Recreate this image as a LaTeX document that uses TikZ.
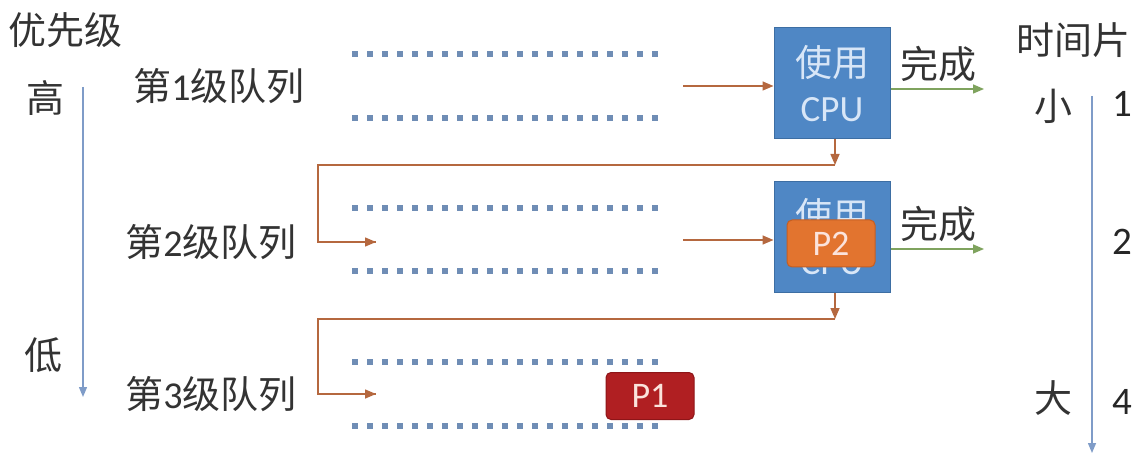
\documentclass[tikz,border=0pt]{standalone}
\usepackage{fontspec}
\setmainfont{Carlito}
\newfontfamily\cjk{Noto Sans CJK SC}
\usetikzlibrary{arrows.meta}
\definecolor{axisblue}{HTML}{7F9CC8}
\definecolor{dotblue}{HTML}{6F8DB5}
\definecolor{brownarr}{HTML}{B5683F}
\definecolor{greenarr}{HTML}{7FA35E}
\definecolor{cpufill}{HTML}{4F87C5}
\definecolor{cpudraw}{HTML}{3D6EA3}
\definecolor{cputext}{HTML}{D8E6F7}
\definecolor{ptwo}{HTML}{E2742F}
\definecolor{ptwodraw}{HTML}{C45E22}
\definecolor{pone}{HTML}{B01F22}
\definecolor{ponedraw}{HTML}{8E1518}
\definecolor{ptext}{HTML}{FBE3DC}
\begin{document}
\begin{tikzpicture}[x=1pt,y=-1pt,
  lbl/.style={font=\cjk\fontsize{38}{44}\selectfont, inner sep=0pt, text=black!80},
  num/.style={font=\fontsize{39}{44}\selectfont, inner sep=0pt, text=black!85},
  cpubox/.style={draw=cpudraw, line width=1pt, fill=cpufill, minimum width=116pt, minimum height=111pt,
    inner sep=0pt, align=center, text=cputext, font=\fontsize{37}{45}\selectfont},
  pbox/.style={rounded corners=5pt, line width=1pt, minimum width=88pt, minimum height=47pt, inner sep=0pt,
    text=ptext, font=\fontsize{36}{40}\selectfont},
  dotline/.style={dotblue, line width=5.5pt, dash pattern=on 6pt off 9pt},
  brownarrow/.style={brownarr, line width=1.5pt, -{Triangle[length=11pt,width=9pt]}},
  brownline/.style={brownarr, line width=1.5pt},
  greenarrow/.style={greenarr, line width=1.5pt, -{Triangle[length=11pt,width=9pt]}},
  axisarrow/.style={axisblue, line width=1.4pt, -{Triangle[length=10pt,width=8pt]}}
]
\useasboundingbox (0,0) rectangle (1141,457);

% left axis
\node[lbl] (prio) at (66,30) {优先级};
\node[lbl] (high) at (46,98) {高};
\node[lbl] (low) at (43,355) {低};
\coordinate (lt) at (83,87);
\coordinate (lb) at (83,397);
\draw[axisarrow] (lt) -- (lb);

% queue labels
\node[lbl] (q1) at (219,86) {第\fontspec{Carlito}1\cjk 级队列};
\node[lbl] (q2) at (211,242) {第\fontspec{Carlito}2\cjk 级队列};
\node[lbl] (q3) at (211,394) {第\fontspec{Carlito}3\cjk 级队列};

% dotted queue borders
\foreach \yy in {54,118,208,271,362,426}{
  \draw[dotline] (352,\yy) -- (661,\yy);
}

% CPU boxes
\node[cpubox] (cpu1) at (832,83.5) {{\cjk 使用}\\CPU};
\node[cpubox] (cpu2) at (832,237) {{\cjk 使用}\\CPU};

% processes
\node[pbox, fill=ptwo, draw=ptwodraw] (p2) at (831,243.5) {P2};
\node[pbox, fill=pone, draw=ponedraw] (p1) at (650,396) {P1};

% queue -> CPU arrows
\coordinate (q1out) at (683,86);
\coordinate (q2out) at (683,240);
\draw[brownarrow] (q1out) -- (q1out -| cpu1.west);
\draw[brownarrow] (q2out) -- (q2out -| cpu2.west);

% feedback from CPU1 to queue 2
\coordinate (fb1) at (835,165);
\coordinate (q2in) at (376,242);
\draw[brownarrow] (fb1 |- cpu1.south) -- (fb1);
\draw[brownline] (fb1) -- (318,165) |- (q2in);
\draw[brownarrow] (330,242) -- (q2in);

% feedback from CPU2 to queue 3
\coordinate (fb2) at (835,319);
\coordinate (q3in) at (376,394);
\draw[brownarrow] (fb2 |- cpu2.south) -- (fb2);
\draw[brownline] (fb2) -- (318,319) |- (q3in);
\draw[brownarrow] (330,394) -- (q3in);

% done arrows
\coordinate (d1) at (984,89);
\coordinate (d2) at (984,249);
\draw[greenarrow] (d1 -| cpu1.east) -- (d1);
\draw[greenarrow] (d2 -| cpu2.east) -- (d2);
\node[lbl] (done1) at (938,64) {完成};
\node[lbl] (done2) at (938,224) {完成};

% right axis
\node[lbl] (slice) at (1073,40) {时间片};
\node[lbl] (small) at (1053,106) {小};
\node[lbl] (big) at (1053,398) {大};
\node[num] (n1) at (1122,104) {1};
\node[num] (n2) at (1122,242) {2};
\node[num] (n4) at (1122,402) {4};
\coordinate (rt) at (1092,96);
\coordinate (rb) at (1092,453);
\draw[axisarrow] (rt) -- (rb);
\end{tikzpicture}
\end{document}
